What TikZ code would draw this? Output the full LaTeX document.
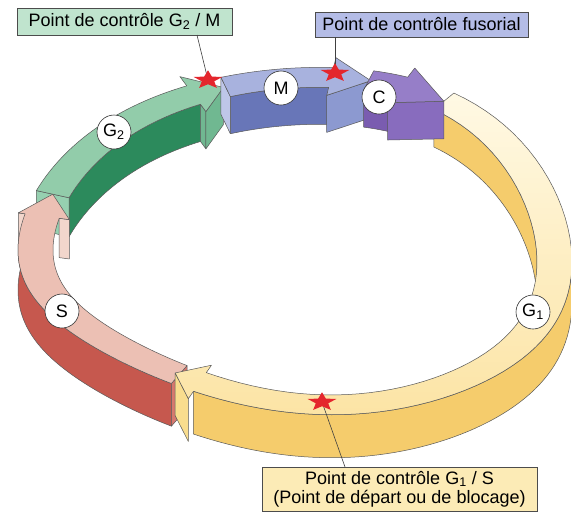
\documentclass[tikz,border=0pt]{standalone}
\usepackage{fontspec}
\setmainfont{Liberation Sans}
\usetikzlibrary{shapes.geometric}

\definecolor{gtop}{RGB}{146,204,170}
\definecolor{gwall}{RGB}{44,138,92}
\definecolor{gface}{RGB}{112,184,145}
\definecolor{gend}{RGB}{150,208,176}
\definecolor{mtop}{RGB}{168,178,222}
\definecolor{mwall}{RGB}{104,118,184}
\definecolor{mface}{RGB}{140,153,208}
\definecolor{mend}{RGB}{190,198,232}
\definecolor{ctop}{RGB}{150,126,200}
\definecolor{cwall}{RGB}{122,92,176}
\definecolor{cface}{RGB}{136,108,190}
\definecolor{stp}{RGB}{236,192,180}
\definecolor{swall}{RGB}{198,88,78}
\definecolor{sface}{RGB}{242,214,204}
\definecolor{send}{RGB}{214,120,110}
\definecolor{ytopA}{RGB}{255,249,228}
\definecolor{ytopM}{RGB}{254,243,208}
\definecolor{ytopB}{RGB}{252,228,165}
\definecolor{ywall}{RGB}{245,204,108}
\definecolor{yface}{RGB}{249,221,142}
\definecolor{bxA}{RGB}{192,228,206}
\definecolor{bxB}{RGB}{180,188,230}
\definecolor{bxC}{RGB}{252,235,182}
\definecolor{starred}{RGB}{228,38,45}

% ring geometry (pixel units, y downwards)
\def\RX#1#2{(295+(242+35*(#2))*cos(#1))}
\def\RY#1#2{(255+(150+20*(#2)-12*sin(#1))*sin(#1)-3.75+2.5*sin(#1)+6*cos(#1)+10*sin(2*(#1))+1.75*cos(2*(#1))+3*cos(4*(#1)))}
\def\RH#1{(40+3*sin(#1))}
\def\ringT#1#2{({\RX{#1}{#2}},{\RY{#1}{#2}})}
\def\ringB#1#2{({\RX{#1}{#2}},{\RY{#1}{#2}+\RH{#1}})}

\newcommand\topface[6]{%
  \path[ring,#1] plot[domain=#2:#3,samples=60] ({\RX{\x}{1}},{\RY{\x}{1}})
    -- \ringT{#3}{#6} -- \ringT{#4}{0.5} -- \ringT{#3}{#5} -- \ringT{#3}{0}
    -- plot[domain=#3:#2,samples=60] ({\RX{\x}{0}},{\RY{\x}{0}}) -- cycle;}
\newcommand\wallband[4]{%
  \path[ring,fill=#1] plot[domain=#3:#4,samples=60] ({\RX{\x}{#2}},{\RY{\x}{#2}})
    -- plot[domain=#4:#3,samples=60] ({\RX{\x}{#2}},{\RY{\x}{#2}+\RH{\x}}) -- cycle;}
\newcommand\qface[5]{%
  \path[ring,fill=#1] \ringT{#2}{#3} -- \ringT{#4}{#5} -- \ringB{#4}{#5} -- \ringB{#2}{#3} -- cycle;}

\begin{document}
\begin{tikzpicture}[x=1pt,y=-1pt,
  ring/.style={draw=black!65,line width=0.5pt,line join=round},
  lab/.style={circle,draw=black!80,fill=white,line width=0.6pt,minimum size=34pt,inner sep=0pt,font=\fontsize{18}{18}\selectfont},
  box/.style={draw=black!70,line width=0.6pt,inner sep=0pt,font=\fontsize{18}{19}\selectfont,align=center},
  leader/.style={draw=black!75,line width=0.6pt},
  cstar/.style={star,star points=5,star point ratio=2.3,fill=starred,minimum size=30pt,inner sep=0pt,transform shape}]
\useasboundingbox (0,0) rectangle (571,512);
\fill[white] (0,0) rectangle (571,512);

% ---- G2 ----
\wallband{gwall}{0}{201}{247}
\qface{gend}{201}{0}{201}{1}
\qface{gface}{247}{0}{247}{-0.4}
\qface{gface}{247}{-0.4}{254}{0.5}
\topface{fill=gtop}{201}{247}{254}{-0.4}{1.5}

% ---- S ----
\wallband{swall}{1}{116.5}{193}
\qface{send}{116.5}{0}{116.5}{1}
\qface{sface}{193}{1}{193}{1.2}
\qface{sface}{193}{0}{193}{-0.3}
\topface{fill=stp}{116.5}{193}{201}{-0.3}{1.2}

% ---- M ----
\wallband{mwall}{0}{254.5}{278}
\qface{mend}{254.5}{0}{254.5}{1}
\qface{mface}{278}{-0.4}{287}{0.5}
\topface{fill=mtop}{254.5}{278}{287}{-0.4}{1.5}

% ---- G1 ----
\wallband{ywall}{0}{305}{362}
\wallband{ywall}{1}{357}{471.5}
\qface{yface}{471.5}{1.4}{477.5}{0.5}
\topface{top color=ytopA,middle color=ytopM,bottom color=ytopB}{305}{471.5}{477.5}{-0.4}{1.4}

% ---- C ----
\wallband{cwall}{0}{286.5}{294}
\qface{cface}{294}{-0.4}{305}{0.5}
\topface{fill=ctop}{286.5}{294}{305}{-0.4}{1.5}

% ---- phase labels ----
\node[lab] (cM) at (281,88) {M};
\node[lab] (cC) at (379,97) {C};
\node[lab] (cG2) at (114,132) {G\textsubscript{2}};
\node[lab] (cS) at (62,311) {S};
\node[lab] (cG1) at (533,312) {G\textsubscript{1}};

% ---- boxes ----
\node[box,fill=bxA,minimum width=215pt,minimum height=27pt] (b1) at (124.5,21.5) {Point de contrôle G\textsubscript{2} / M};
\node[box,fill=bxB,minimum width=213pt,minimum height=25pt] (b2) at (421.5,24.5) {Point de contrôle fusorial};
\node[box,fill=bxC,minimum width=275pt,minimum height=44pt] (b3) at (399.5,489) {Point de contrôle G\textsubscript{1} / S\\(Point de départ ou de blocage)};

% ---- leaders (box to checkpoint) ----
\coordinate (p1) at (208,80);
\coordinate (p2) at (335,73);
\coordinate (p3) at (322,402);
\coordinate (l1) at (197,35);
\coordinate (l2) at (335,37);
\coordinate (l3) at (345,467);
\draw[leader] (l1) -- (p1);
\draw[leader] (l2) -- (p2);
\draw[leader] (l3) -- (p3);

% ---- stars ----
\begin{scope}[shift={(p1)},yscale=0.65]
  \node[cstar] (st1) at (0,0) {};
\end{scope}
\begin{scope}[shift={(p2)},yscale=0.65]
  \node[cstar] (st2) at (0,0) {};
\end{scope}
\begin{scope}[shift={(p3)},yscale=0.65]
  \node[cstar] (st3) at (0,0) {};
\end{scope}
\end{tikzpicture}
\end{document}
